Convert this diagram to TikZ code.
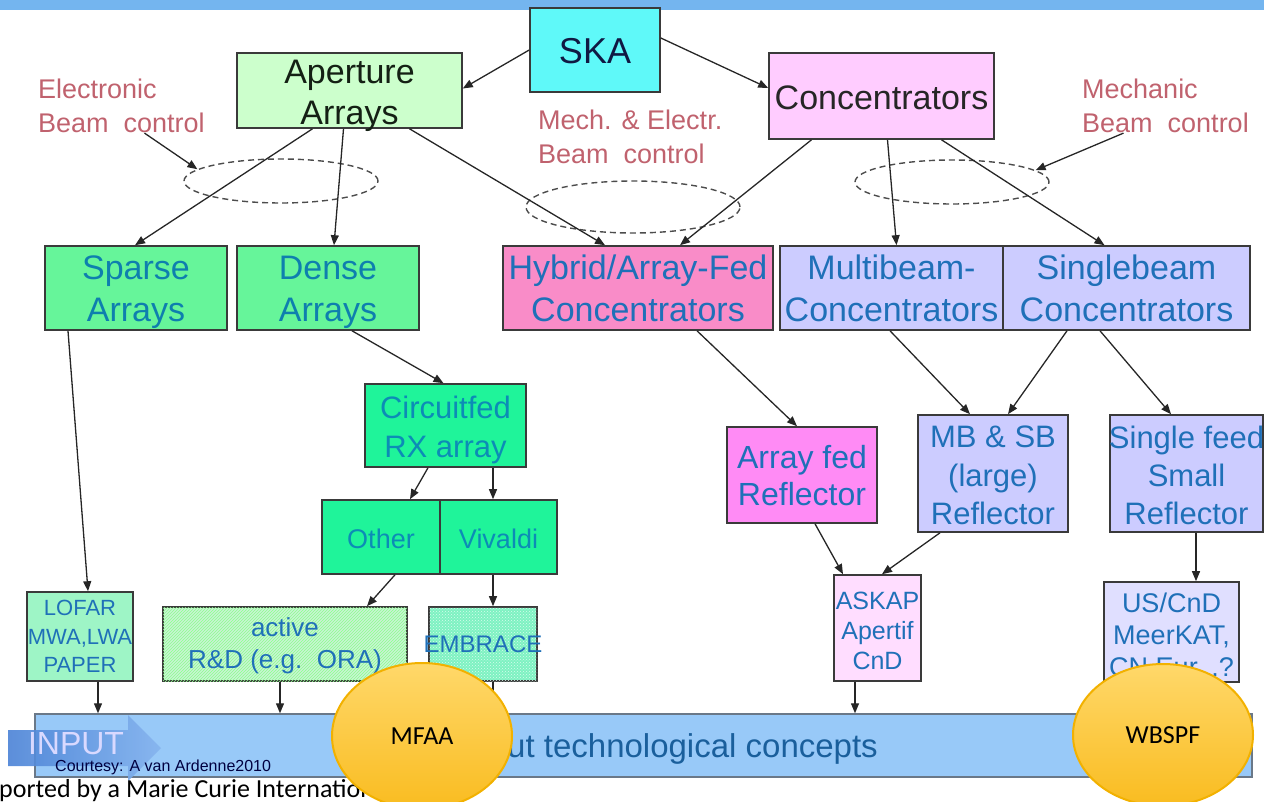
\documentclass[tikz,border=0pt]{standalone}
\usepackage{fontspec}
\setmainfont{Liberation Sans}
\newfontfamily\calfont{Carlito}
\usetikzlibrary{arrows.meta,patterns,shapes.geometric}
\newcommand\fsz[2]{\fontsize{#1}{#2}\selectfont}
\definecolor{topband}{HTML}{74B5EF}
\definecolor{skac}{HTML}{5FF9F9}
\definecolor{aac}{HTML}{CCFFCC}
\definecolor{concc}{HTML}{FFCCFF}
\definecolor{sparsec}{HTML}{66F59A}
\definecolor{hybc}{HTML}{F98CC8}
\definecolor{multic}{HTML}{CCCCFF}
\definecolor{circc}{HTML}{1FF49A}
\definecolor{arrfc}{HTML}{FF8BF5}
\definecolor{lofc}{HTML}{9EF5C6}
\definecolor{actc}{HTML}{C8F4D4}
\definecolor{embc}{HTML}{7EF2C2}
\definecolor{askc}{HTML}{FFDDFF}
\definecolor{usc}{HTML}{E0DFFF}
\definecolor{bandc}{HTML}{98C9F8}
\definecolor{bandb}{HTML}{6A7888}
\definecolor{bordc}{HTML}{3A3A3A}
\definecolor{redt}{HTML}{C0626E}
\definecolor{bluet}{HTML}{1F70B8}
\definecolor{tealt}{HTML}{0E7FAE}
\definecolor{darkt}{HTML}{142014}
\definecolor{circt}{HTML}{F2B100}
\definecolor{circtop}{HTML}{FFD86A}
\definecolor{circbot}{HTML}{F9BC20}
\definecolor{arrowl}{HTML}{4A82D6}
\definecolor{arrowr}{HTML}{86B4EE}
\begin{document}
\begin{tikzpicture}[x=1pt,y=-1pt,
  box/.style={draw=bordc,line width=1.6pt,inner sep=0pt},
  txt/.style={align=center,inner sep=0pt},
  redlbl/.style={text=redt,align=left,inner sep=0pt,anchor=west,font=\fsz{27}{34}},
  arr/.style={draw=black!85,line width=1.3pt,-{Triangle[length=10pt,width=8pt]}},
  dell/.style={ellipse,draw=black!70,line width=1.4pt,dash pattern=on 6pt off 4pt,inner sep=0pt},
  bubble/.style={ellipse,draw=circt,line width=2pt,top color=circtop,bottom color=circbot,inner sep=0pt,font=\calfont\fsz{26}{30}}
]
\useasboundingbox (0,0) rectangle (1264,802);
\fill[topband] (0,0) rectangle (1264,10);

% dashed ellipses
\node[dell,minimum width=194,minimum height=44] (e1) at (281,181) {};
\node[dell,minimum width=214,minimum height=52] (e2) at (633,207) {};
\node[dell,minimum width=194,minimum height=44] (e3) at (952,182) {};

% top level
\node[box,fill=skac,minimum width=130,minimum height=84,
  label={[txt,yshift=-1pt,text=darkt!80!blue,font=\fsz{36}{42}]center:SKA}] (ska) at (595,50) {};
\node[box,fill=aac,minimum width=225,minimum height=75,
  label={[txt,yshift=-5pt,text=darkt,font=\fsz{34}{41}]center:{Aperture\\Arrays}}] (aa) at (349.5,90.5) {};
\node[box,fill=concc,minimum width=225,minimum height=86,
  label={[txt,yshift=-2pt,text=black!85,font=\fsz{34}{41}]center:{Concentrators}}] (conc) at (881.5,96) {};

% red labels
\node[redlbl] (elec) at (38,106) {Electronic\\Beam\ \ control};
\node[redlbl] (mel) at (538,137) {Mech. \& Electr.\\Beam\ \ control};
\node[redlbl] (mech) at (1082,106) {Mechanic\\Beam\ \ control};

% second row
\node[box,fill=sparsec,minimum width=182,minimum height=84,
  label={[txt,yshift=-4pt,text=tealt,font=\fsz{34}{42}]center:{Sparse\\Arrays}}] (sparse) at (136,288) {};
\node[box,fill=sparsec,minimum width=182,minimum height=84,
  label={[txt,yshift=-4pt,text=tealt,font=\fsz{34}{42}]center:{Dense\\Arrays}}] (dense) at (328,288) {};
\node[box,fill=hybc,minimum width=270,minimum height=84,
  label={[txt,text=bluet,font=\fsz{34}{42}]center:{Hybrid/Array-Fed\\Concentrators}}] (hyb) at (638,288) {};
\node[box,fill=multic,minimum width=223,minimum height=84,
  label={[txt,text=bluet,font=\fsz{34}{42}]center:{Multibeam-\\Concentrators}}] (multi) at (891.5,288) {};
\node[box,fill=multic,minimum width=247,minimum height=84,
  label={[txt,text=bluet,font=\fsz{34}{42}]center:{Singlebeam\\Concentrators}}] (single) at (1126.5,288) {};

% third level
\node[box,fill=circc,minimum width=161,minimum height=83,
  label={[txt,yshift=-4pt,text=tealt!90!cyan,font=\fsz{31}{39}]center:{Circuitfed\\RX array}}] (circ) at (445.5,425.5) {};
\node[box,fill=circc,minimum width=118,minimum height=74,
  label={[txt,yshift=-2pt,text=tealt!90!cyan,font=\fsz{27}{32}]center:{Other}}] (other) at (381,537) {};
\node[box,fill=circc,minimum width=117,minimum height=74,
  label={[txt,yshift=-2pt,text=tealt!90!cyan,font=\fsz{27}{32}]center:{Vivaldi}}] (viv) at (498.5,537) {};
\node[box,fill=arrfc,minimum width=150,minimum height=96,
  label={[txt,yshift=-1pt,text=bluet,font=\fsz{32}{37}]center:{Array fed\\Reflector}}] (arrf) at (802,475) {};
\node[box,fill=multic,minimum width=150,minimum height=117,
  label={[txt,yshift=-2pt,text=bluet,font=\fsz{31}{38.5}]center:{MB \& SB\\(large)\\Reflector}}] (mbsb) at (993,473.5) {};
\node[box,fill=multic,minimum width=153,minimum height=117,
  label={[txt,yshift=-2pt,text=bluet,font=\fsz{31}{38}]center:{Single feed\\Small\\Reflector}}] (sfeed) at (1186.5,473.5) {};

% bottom boxes
\node[box,fill=lofc,minimum width=106,minimum height=89,
  label={[txt,text=bluet,font=\fsz{22}{28.5}]center:{LOFAR\\MWA,LWA\\PAPER}}] (lofar) at (80,636.5) {};
\node[box,fill=actc,minimum width=244,minimum height=74,
  postaction={pattern=north east lines,pattern color=green!45!white},
  label={[txt,yshift=-2pt,text=bluet,font=\fsz{26}{32}]center:{active\\R\&D (e.g.\ \ ORA)}}] (act) at (285,644) {};
\node[box,fill=embc,minimum width=108,minimum height=74,
  postaction={pattern=crosshatch dots,pattern color=white!70!embc},
  label={[txt,text=bluet,font=\fsz{24}{30}]center:{EMBRACE}}] (emb) at (483,644) {};
\node[box,fill=askc,minimum width=87,minimum height=106,
  label={[txt,yshift=-3pt,text=bluet,font=\fsz{25}{30}]center:{ASKAP\\Apertif\\CnD}}] (askap) at (877.5,628) {};
\node[box,fill=usc,minimum width=135,minimum height=100,
  label={[txt,yshift=-4pt,text=bluet,font=\fsz{27}{32}]center:{US/CnD\\MeerKAT,\\CN,Eur,..?}}] (us) at (1171.5,632) {};

% band
\node[draw=bandb,line width=1.4pt,fill=bandc,minimum width=1217,minimum height=63,inner sep=0pt] (band) at (643.5,745.5) {};
\node[font=\fsz{33}{40},text=bluet!85!black,anchor=base east,inner sep=0pt] (bandtxt) at (878,757) {Input technological concepts};

% INPUT arrow
\path[left color=arrowl,right color=arrowr,opacity=0.9]
  (8,730) -- (128,730) -- (128,715) -- (161,748) -- (128,781) -- (128,766) -- (8,766) -- cycle;
\node[font=\fsz{32}{38},text=white!85!blue,inner sep=0pt] (input) at (76,744) {INPUT};
\node[font=\fsz{16}{18},text=black!75!blue,inner sep=0pt,anchor=west] (court) at (55,767) {Courtesy: A van Ardenne2010};

% connectors
\draw[arr] (ska.west) -- ([yshift=2pt]aa.east);
\draw[arr] ([yshift=12pt]ska.east) -- ([yshift=8pt]conc.west);
\draw[arr] ([xshift=23pt]elec.south) -- (e1.172);
\draw[arr] ([xshift=-42pt]mech.south) -- (e3.8);
\draw[arr] ([xshift=-37pt]aa.south) -- ([xshift=-1pt]sparse.north);
\draw[arr] ([xshift=-6pt]aa.south) -- ([xshift=6pt]dense.north);
\draw[arr] ([xshift=60pt]aa.south) -- ([xshift=-33pt]hyb.north);
\draw[arr] ([xshift=-70pt]conc.south) -- ([xshift=42pt]hyb.north);
\draw[arr] ([xshift=6pt]conc.south) -- ([xshift=5pt]multi.north);
\draw[arr] ([xshift=60pt]conc.south) -- ([xshift=-22pt]single.north);
\draw[arr] ([xshift=-68pt]sparse.south) -- ([xshift=8pt]lofar.north);
\draw[arr] ([xshift=24pt]dense.south) -- ([xshift=-2pt]circ.north);
\draw[arr] ([xshift=-17.5pt]circ.south) -- ([xshift=29pt]other.north);
\draw[arr] ([xshift=47.5pt]circ.south) -- ([xshift=-5.5pt]viv.north);
\draw[arr] ([xshift=14pt]other.south) -- ([xshift=82pt]act.north);
\draw[arr] ([xshift=-5.5pt]viv.south) -- ([xshift=10pt]emb.north);
\draw[arr] ([xshift=59pt]hyb.south) -- ([xshift=-5pt]arrf.north);
\draw[arr] ([xshift=-1.5pt]multi.south) -- ([xshift=-23pt]mbsb.north);
\draw[arr] ([xshift=-59.5pt]single.south) -- ([xshift=15pt]mbsb.north);
\draw[arr] ([xshift=-26.5pt]single.south) -- ([xshift=-15.5pt]sfeed.north);
\draw[arr] ([xshift=13pt]arrf.south) -- ([xshift=-34.5pt]askap.north);
\draw[arr] ([xshift=-53pt]mbsb.south) -- ([xshift=4.5pt]askap.north);
\draw[arr] ([xshift=9.5pt]sfeed.south) -- ([xshift=24.5pt]us.north);
\draw[arr] ([xshift=18pt]lofar.south) -- ([xshift=-545.5pt]band.north);
\draw[arr] ([xshift=-5pt]act.south) -- ([xshift=-363.5pt]band.north);
\draw[arr] ([xshift=10pt]emb.south) -- ([xshift=-150.5pt]band.north);
\draw[arr] ([xshift=-22.5pt]askap.south) -- ([xshift=211.5pt]band.north);

% footer text
\node[font=\calfont\fsz{26}{30},anchor=base west,inner sep=0pt] (sup) at (-1,797) {ported by a Marie Curie International};

% bubbles
\node[bubble,minimum width=180,minimum height=146] (mfaa) at (422,736) {MFAA};
\node[bubble,minimum width=180,minimum height=142] (wbspf) at (1163,735) {WBSPF};
\end{tikzpicture}
\end{document}
